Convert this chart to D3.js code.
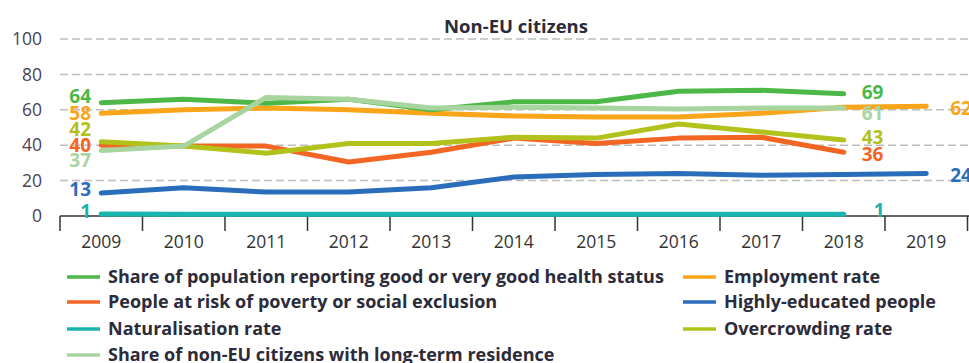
<!DOCTYPE html>
<html><head><meta charset="utf-8">
<script src="https://cdn.jsdelivr.net/npm/d3@7"></script>
<style>
html,body{margin:0;padding:0;background:#fff;}
svg{display:block;}
</style></head>
<body>
<script>
const years = ["2009","2010","2011","2012","2013","2014","2015","2016","2017","2018","2019"];
const yTicks = [0,20,40,60,80,100];
const health     = [64,66,63.7,66,60,64.5,64.5,70.5,71,69,null];
const employment = [58,60,61,60,58,56.5,56,56,58,61.5,62];
const poverty    = [40,39.5,39.5,30.5,36,44,41,44,44.5,36,null];
const highEdu    = [13,16,13.5,13.5,16,22,23.5,24,23,23.5,24];
const natural    = [1.2,1,1,1,1,1,1,1,1,1,null];
const overcrowd  = [42,39.5,35.5,41,41,44.5,44,52,47.5,43,null];
const longTerm   = [37,39.5,67,66,61,61.5,61,60.5,61,61,null];
const seriesNames = [
  "Share of population reporting good or very good health status",
  "Employment rate",
  "People at risk of poverty or social exclusion",
  "Highly-educated people",
  "Naturalisation rate",
  "Overcrowding rate",
  "Share of non-EU citizens with long-term residence"
];
const startLabels = ["64","58","40","13","1","42","37"];
const endLabels   = ["69","62","36","24","1","43","61"];
const title = "Non-EU citizens";

const colors = ["#4db848","#f9a51a","#f26522","#2a6ebb","#17b5ae","#b3c11b","#a7d49f"];
const seriesValues = [health, employment, poverty, highEdu, natural, overcrowd, longTerm];
// label nudges (px) to avoid overlap
const startDy = [-6,0,0,-4,-3,-12,10];
const endDy   = [-2,2,2,2,-4,-3,5];
const endDx   = [18,24,18,24,30,18,18];
const drawOrder = [4,3,2,5,1,0,6];

const W=969,H=363;
const svg = d3.select("body").append("svg").attr("width",W).attr("height",H);
const font = "'Open Sans', 'Noto Sans', sans-serif";

const x = d3.scaleBand().domain(years).range([60,967.5]);
const y = d3.scaleLinear().domain([0,100]).range([216,39]);
const cx = d => x(d)+x.bandwidth()/2;

// gridlines
svg.append("g").selectAll("line").data(yTicks.filter(t=>t>0)).join("line")
  .attr("x1",60).attr("x2",W).attr("y1",d=>y(d)).attr("y2",d=>y(d))
  .attr("stroke","#bdbdbd").attr("stroke-width",1.5).attr("stroke-dasharray","8,4");

// y labels
svg.append("g").selectAll("text").data(yTicks).join("text")
  .attr("x",42).attr("y",d=>y(d)).attr("dy","0.35em").attr("text-anchor","end")
  .attr("font-family",font).attr("font-size",17.5).attr("fill","#4a4254").text(d=>d);

// x axis
const xAxis = d3.axisBottom(x).tickSize(0).tickPadding(18);
const gx = svg.append("g").attr("transform","translate(0,216)").call(xAxis);
gx.select(".domain").remove();
gx.selectAll("text").attr("font-family",font).attr("font-size",17.5).attr("fill","#333")
  .attr("y",26).attr("dy","0.35em");
svg.append("line").attr("x1",60).attr("x2",W).attr("y1",216).attr("y2",216)
  .attr("stroke","#333").attr("stroke-width",1.5);
svg.append("g").selectAll("line").data(years.concat(["end"])).join("line")
  .attr("x1",(d,i)=>i<years.length?x(d):x(years[years.length-1])+x.bandwidth())
  .attr("x2",(d,i)=>i<years.length?x(d):x(years[years.length-1])+x.bandwidth())
  .attr("y1",216).attr("y2",231).attr("stroke","#333").attr("stroke-width",1.5);

// title
svg.append("text").attr("x",516).attr("y",27).attr("dy","0.35em").attr("text-anchor","middle")
  .attr("font-family",font).attr("font-weight","bold").attr("font-size",18.5).attr("fill","#2b2b3a").text(title);

// lines
const line = d3.line().defined(d=>d.v!=null).x(d=>cx(d.yr)).y(d=>y(d.v));
drawOrder.forEach(i=>{
  const pts = years.map((yr,j)=>({yr, v:seriesValues[i][j]}));
  svg.append("path").attr("d",line(pts)).attr("fill","none")
    .attr("stroke",colors[i]).attr("stroke-width",5)
    .attr("stroke-linejoin","round").attr("stroke-linecap","round");
});

// value labels
seriesValues.forEach((vals,i)=>{
  svg.append("text").attr("x",91).attr("y",y(vals[0])+startDy[i]).attr("dy","0.35em")
    .attr("text-anchor","end").attr("font-family",font).attr("font-weight","bold")
    .attr("font-size",19).attr("fill",colors[i]).text(startLabels[i]);
  let last = vals.length-1; while(vals[last]==null) last--;
  svg.append("text").attr("x",cx(years[last])+endDx[i]).attr("y",y(vals[last])+endDy[i]).attr("dy","0.35em")
    .attr("font-family",font).attr("font-weight","bold")
    .attr("font-size",19).attr("fill",colors[i]).text(endLabels[i]);
});

// legend
const legendPos = [[67,277],[683,277],[67,302],[683,302],[67,329],[683,329],[67,355]];
seriesNames.forEach((n,i)=>{
  const [lx,ly]=legendPos[i];
  svg.append("line").attr("x1",lx).attr("x2",lx+33).attr("y1",ly).attr("y2",ly)
    .attr("stroke",colors[i]).attr("stroke-width",3.5);
  svg.append("text").attr("x",lx+41).attr("y",ly).attr("dy","0.35em")
    .attr("font-family",font).attr("font-weight","bold").attr("font-size",18)
    .attr("fill","#2b2b3a").text(n);
});
</script>
</body></html>
